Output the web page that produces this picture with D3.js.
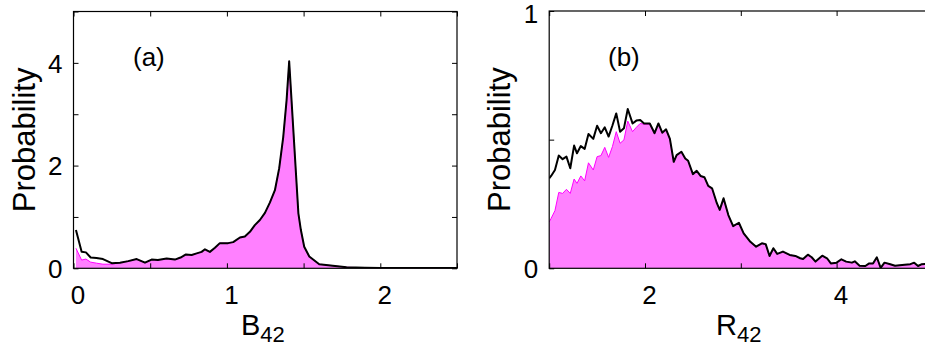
<!DOCTYPE html>
<html>
<head>
<meta charset="utf-8">
<script src="https://cdn.jsdelivr.net/npm/d3@7"></script>
<style>
  html, body { margin: 0; padding: 0; background: #fff; }
  svg { display: block; font-family: "Liberation Sans", Arial, Helvetica, sans-serif; }
</style>
</head>
<body>
<svg id="chart" width="925" height="349"></svg>
<script>
// Panel (a): distribution of B42
const bondX = [0.016, 0.053, 0.081, 0.112, 0.15, 0.192, 0.249, 0.303, 0.357, 0.412, 0.466, 0.509, 0.55, 0.607, 0.661, 0.698, 0.733, 0.77, 0.803, 0.835, 0.857, 0.889, 0.922, 0.954, 1.008, 1.041, 1.085, 1.117, 1.15, 1.182, 1.215, 1.248, 1.28, 1.313, 1.341, 1.367, 1.389, 1.406, 1.466, 1.482, 1.504, 1.537, 1.602, 1.69, 1.78, 1.9, 2.0, 2.2, 2.5];
const bondAll = [0.745, 0.32, 0.31, 0.21, 0.20, 0.18, 0.10, 0.11, 0.14, 0.18, 0.11, 0.17, 0.16, 0.19, 0.17, 0.21, 0.27, 0.26, 0.29, 0.32, 0.37, 0.32, 0.40, 0.49, 0.49, 0.51, 0.60, 0.62, 0.71, 0.84, 0.94, 1.08, 1.28, 1.52, 1.95, 2.55, 3.27, 4.03, 1.07, 0.75, 0.42, 0.23, 0.08, 0.05, 0.02, 0.01, 0.005, 0.005, 0.005];
const bondSub = [0.39, 0.16, 0.18, 0.12, 0.10, 0.08, 0.08, 0.11, 0.14, 0.18, 0.11, 0.17, 0.16, 0.19, 0.17, 0.21, 0.27, 0.26, 0.29, 0.32, 0.37, 0.32, 0.40, 0.49, 0.49, 0.51, 0.60, 0.62, 0.71, 0.84, 0.94, 1.08, 1.28, 1.52, 1.95, 2.55, 3.27, 4.03, 1.07, 0.75, 0.42, 0.23, 0.08, 0.05, 0.02, 0.01, 0.005, 0.005, 0.005];

// Panel (b): distribution of R42
const distX = [1.0, 1.02, 1.06, 1.10, 1.14, 1.18, 1.22, 1.26, 1.29, 1.33, 1.37, 1.41, 1.46, 1.50, 1.54, 1.58, 1.62, 1.66, 1.70, 1.74, 1.78, 1.82, 1.87, 1.91, 1.95, 1.99, 2.05, 2.10, 2.14, 2.18, 2.22, 2.26, 2.30, 2.33, 2.38, 2.42, 2.45, 2.50, 2.54, 2.58, 2.62, 2.66, 2.70, 2.75, 2.78, 2.82, 2.87, 2.92, 2.98, 3.03, 3.10, 3.16, 3.22, 3.26, 3.30, 3.34, 3.38, 3.44, 3.51, 3.57, 3.62, 3.65, 3.70, 3.74, 3.78, 3.85, 3.90, 3.94, 4.00, 4.05, 4.10, 4.16, 4.19, 4.24, 4.30, 4.34, 4.38, 4.42, 4.46, 4.50, 4.56, 4.61, 4.71, 4.77, 4.81, 4.85, 4.89, 4.92, 4.98];
const distAll = [0.35, 0.359, 0.382, 0.438, 0.424, 0.434, 0.389, 0.477, 0.447, 0.475, 0.464, 0.522, 0.503, 0.554, 0.525, 0.548, 0.512, 0.555, 0.602, 0.531, 0.544, 0.619, 0.563, 0.574, 0.576, 0.563, 0.563, 0.525, 0.563, 0.527, 0.540, 0.503, 0.414, 0.440, 0.453, 0.427, 0.418, 0.366, 0.379, 0.359, 0.354, 0.320, 0.311, 0.253, 0.227, 0.272, 0.207, 0.164, 0.177, 0.136, 0.103, 0.084, 0.097, 0.094, 0.048, 0.078, 0.056, 0.065, 0.052, 0.048, 0.039, 0.036, 0.053, 0.043, 0.026, 0.049, 0.039, 0.019, 0.022, 0.035, 0.026, 0.022, 0.027, 0.010, 0.009, 0.019, 0.019, 0.043, 0.002, 0.022, 0.016, 0.010, 0.014, 0.016, 0.022, 0.009, 0.016, 0.017, 0.015];
const distSub = [0.18, 0.194, 0.224, 0.295, 0.291, 0.307, 0.291, 0.347, 0.330, 0.359, 0.340, 0.410, 0.382, 0.434, 0.438, 0.470, 0.431, 0.473, 0.531, 0.486, 0.499, 0.572, 0.531, 0.548, 0.563, 0.560, 0.560, 0.525, 0.563, 0.527, 0.540, 0.503, 0.414, 0.440, 0.453, 0.427, 0.418, 0.366, 0.379, 0.359, 0.354, 0.320, 0.311, 0.253, 0.227, 0.272, 0.207, 0.164, 0.177, 0.136, 0.103, 0.084, 0.097, 0.094, 0.048, 0.078, 0.056, 0.065, 0.052, 0.048, 0.039, 0.036, 0.053, 0.043, 0.026, 0.049, 0.039, 0.019, 0.022, 0.035, 0.026, 0.022, 0.027, 0.010, 0.009, 0.019, 0.019, 0.043, 0.002, 0.022, 0.016, 0.010, 0.014, 0.016, 0.022, 0.009, 0.016, 0.017, 0.015];

// Tick positions and which of them carry labels
const aXTicks = [0, 0.5, 1, 1.5, 2, 2.5];
const aXLabels = [0, 1, 2];
const aYTicks = [0, 1, 2, 3, 4, 5];
const aYLabels = [0, 2, 4];
const bXTicks = [1, 2, 3, 4, 5];
const bXLabels = [2, 4];
const bYTicks = [0, 0.5, 1];
const bYLabels = [0, 1];

const svg = d3.select("#chart");
const FILL = "#ff80ff", EDGE = "#ff00ff";

function panel(cfg) {
  const x = d3.scaleLinear().domain(cfg.xDomain).range([cfg.left, cfg.right]);
  const y = d3.scaleLinear().domain(cfg.yDomain).range([cfg.bottom, cfg.top]);
  const g = svg.append("g");

  const clipId = "clip-" + cfg.name;
  svg.append("clipPath").attr("id", clipId).append("rect")
    .attr("x", cfg.left).attr("y", cfg.top)
    .attr("width", cfg.right - cfg.left).attr("height", cfg.bottom - cfg.top);

  const plot = g.append("g").attr("clip-path", `url(#${clipId})`);
  const subPts = cfg.xs.map((v, i) => [v, cfg.sub[i]]);
  const allPts = cfg.xs.map((v, i) => [v, cfg.all[i]]);

  plot.append("path").datum(subPts)
    .attr("fill", FILL)
    .attr("d", d3.area().x(d => x(d[0])).y0(y(0)).y1(d => y(d[1])));
  plot.append("path").datum(subPts)
    .attr("fill", "none").attr("stroke", EDGE).attr("stroke-width", 1)
    .attr("d", d3.line().x(d => x(d[0])).y(d => y(d[1])));
  plot.append("path").datum(allPts)
    .attr("fill", "none").attr("stroke", "#000").attr("stroke-width", 2)
    .attr("stroke-linejoin", "round")
    .attr("d", d3.line().x(d => x(d[0])).y(d => y(d[1])));

  // frame
  g.append("rect")
    .attr("x", cfg.left).attr("y", cfg.top)
    .attr("width", cfg.right - cfg.left).attr("height", cfg.bottom - cfg.top)
    .attr("fill", "none").attr("stroke", "#000").attr("stroke-width", 1.2);

  const fmt = labels => d => labels.includes(d) ? String(d) : "";
  const styleAxis = sel => {
    sel.select(".domain").remove();
    sel.selectAll(".tick line").attr("stroke", "#000").attr("stroke-width", 1);
    sel.selectAll(".tick text").attr("fill", "#000").attr("font-size", 26)
      .attr("font-family", "'Liberation Sans', Arial, sans-serif");
  };

  g.append("g").attr("transform", `translate(0,${cfg.bottom})`)
    .call(d3.axisBottom(x).tickValues(cfg.xTicks).tickFormat(fmt(cfg.xLabels)).tickSizeInner(-5).tickSizeOuter(0).tickPadding(12))
    .call(styleAxis)
    .call(s => s.selectAll(".tick text").attr("dx", 4).attr("dy", "0.9em"));
  g.append("g").attr("transform", `translate(0,${cfg.top})`)
    .call(d3.axisTop(x).tickValues(cfg.xTicks).tickFormat("").tickSizeInner(-5).tickSizeOuter(0))
    .call(styleAxis);
  g.append("g").attr("transform", `translate(${cfg.left},0)`)
    .call(d3.axisLeft(y).tickValues(cfg.yTicks).tickFormat(fmt(cfg.yLabels)).tickSizeInner(-5).tickSizeOuter(0).tickPadding(11))
    .call(styleAxis)
    // keep the topmost label inside the page
    .call(s => s.selectAll(".tick text").attr("dy", d => y(d) < 20 ? "0.44em" : "0.36em"));
  g.append("g").attr("transform", `translate(${cfg.right},0)`)
    .call(d3.axisRight(y).tickValues(cfg.yTicks).tickFormat("").tickSizeInner(-5).tickSizeOuter(0))
    .call(styleAxis);

  // axis titles
  g.append("text")
    .attr("transform", `translate(${cfg.yTitleX},${(cfg.top + cfg.bottom) / 2}) rotate(-90)`)
    .attr("text-anchor", "middle").attr("font-size", 31).attr("fill", "#000")
    .text("Probability");
  const xt = g.append("text")
    .attr("x", cfg.xTitleX).attr("y", 335)
    .attr("font-size", 29).attr("fill", "#000");
  xt.append("tspan").text(cfg.xTitle);
  xt.append("tspan").attr("font-size", 22).attr("dy", 7).text("42");

  g.append("text")
    .attr("x", cfg.tagX).attr("y", 66)
    .attr("font-size", 26).attr("fill", "#000")
    .text(cfg.tag);
}

panel({
  name: "a", xs: bondX, all: bondAll, sub: bondSub,
  xDomain: [0, 2.5], yDomain: [0, 5],
  left: 73.5, right: 457, top: 11.5, bottom: 268.3,
  xTicks: aXTicks, xLabels: aXLabels, yTicks: aYTicks, yLabels: aYLabels,
  yTitleX: 35, xTitle: "B", xTitleX: 241, tag: "(a)", tagX: 133
});

panel({
  name: "b", xs: distX, all: distAll, sub: distSub,
  xDomain: [1, 5], yDomain: [0, 1],
  left: 549.2, right: 932.4, top: 11, bottom: 268.3,
  xTicks: bXTicks, xLabels: bXLabels, yTicks: bYTicks, yLabels: bYLabels,
  yTitleX: 510, xTitle: "R", xTitleX: 716, tag: "(b)", tagX: 608
});
</script>
</body>
</html>
